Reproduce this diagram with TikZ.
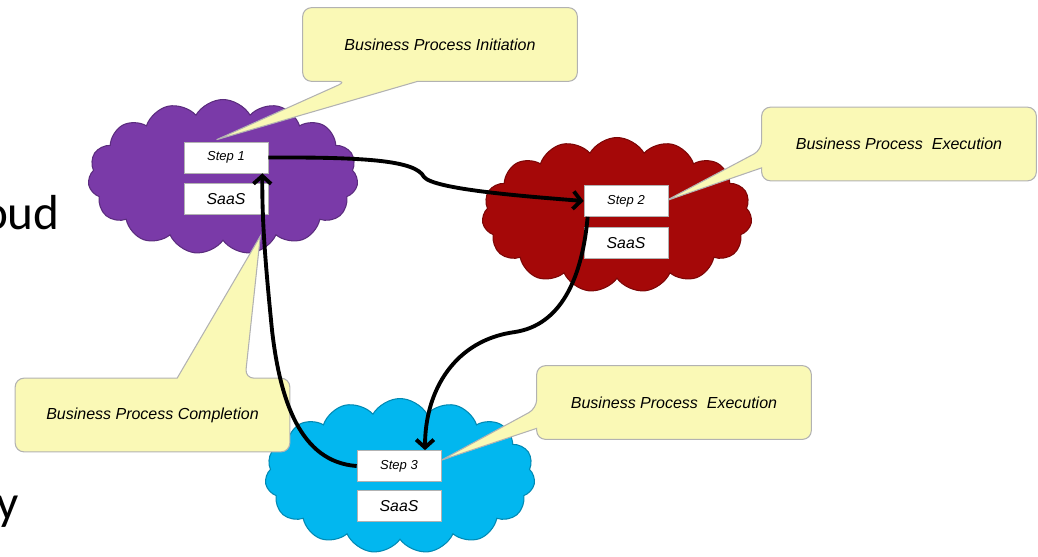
\documentclass[tikz,border=0pt]{standalone}
\usepackage{fontspec}
\setmainfont{Liberation Sans}
\newfontfamily\slidefont{Carlito}
\usepackage{xcolor}
\usetikzlibrary{shapes,shapes.symbols,positioning,arrows.meta,backgrounds}

\definecolor{noteyellow}{RGB}{250,249,182}
\definecolor{cloudpurple}{RGB}{122,58,168}
\definecolor{cloudred}{RGB}{165,8,8}
\definecolor{cloudblue}{RGB}{2,183,239}

\begin{document}
\begin{tikzpicture}[
    % Define node styles (pixel grid, y pointing down)
    x = 0.02cm, y = -0.02cm,
    stepbox/.style={rectangle, fill=white, draw=gray!60, minimum width=1.68cm, minimum height=0.62cm, inner sep=0pt, font=\itshape\fontsize{7.4}{9}\selectfont},
    saasbox/.style={stepbox, font=\itshape\fontsize{9}{11}\selectfont},
    cloudnode/.style={cloud, cloud puffs=15, cloud puff arc=120, aspect=1.75, minimum width=5.4cm, minimum height=3.1cm, inner sep=0pt, draw=#1!75!black, line width=0.6pt, fill=#1},
    notebox/.style={rectangle, minimum width=5.48cm, minimum height=1.46cm, inner sep=0pt, font=\itshape\fontsize{9.1}{11}\selectfont},
    notepath/.style={fill=noteyellow, draw=gray!60, line width=0.6pt},
    slidetext/.style={font=\slidefont\fontsize{28}{32}\selectfont, inner sep=0pt, anchor=base east},
    flow/.style={line width=2.2pt, -{Straight Barb[length=4.5pt,width=10pt]}},
]
\useasboundingbox (0,0) rectangle (1038,556);

% Step boxes
\node[stepbox] (step1) at (226,157.5) {Step 1};
\node[saasbox, below=0.2cm of step1] (saas1) {SaaS};
\node[stepbox] (step2) at (626,201) {Step 2};
\node[saasbox, below=0.2cm of step2] (saas2) {SaaS};
\node[stepbox] (step3) at (399,466) {Step 3};
\node[saasbox, below=0.16cm of step3] (saas3) {SaaS};

% Callout texts
\node[notebox] (init) at (440,44.5) {Business Process Initiation};
\node[notebox] (exec1) at (899,144) {Business Process\ \ Execution};
\node[notebox] (compl) at (152.5,415) {Business Process Completion};
\node[notebox] (exec2) at (674,402.5) {Business Process\ \ Execution};

% Callout tips
\coordinate (tip1) at ([xshift=0.66cm,yshift=0.04cm]step1.north west);
\coordinate (tip2) at ([xshift=-0.06cm]step2.east);
\coordinate (tip3) at ([xshift=-0.16cm,yshift=-0.42cm]saas1.south east);
\coordinate (tip4) at ([yshift=-0.2cm]step3.north east);

% Clouds and callout outlines behind the boxes
\begin{scope}[on background layer]
    \node[cloudnode=cloudpurple] (cloud1) at (223,177) {};
    \node[cloudnode=cloudred] (cloud2) at (617,215) {};
    \node[cloudnode=cloudblue] (cloud3) at (400,476) {};

    \draw[notepath] ([xshift=2.3cm]init.south west) [rounded corners=5pt] -- (init.south east) -- (init.north east) -- (init.north west) -- (init.south west) -- ([xshift=0.88cm]init.south west) [sharp corners] -- (tip1) -- cycle;
    \draw[notepath] ([yshift=0.26cm]exec1.south west) [rounded corners=5pt] -- (exec1.south west) -- (exec1.south east) -- (exec1.north east) -- (exec1.north west) -- ([yshift=0.62cm]exec1.south west) [sharp corners] -- (tip2) -- cycle;
    \draw[notepath] ([xshift=3.24cm]compl.north west) [rounded corners=5pt] -- (compl.north west) -- (compl.south west) -- (compl.south east) -- (compl.north east) -- ([xshift=4.6cm]compl.north west) [sharp corners] -- (tip3) -- cycle;
    \draw[notepath] ([yshift=0.22cm]exec2.south west) [rounded corners=5pt] -- (exec2.south west) -- (exec2.south east) -- (exec2.north east) -- (exec2.north west) -- ([yshift=0.62cm]exec2.south west) [sharp corners] -- (tip4) -- cycle;
\end{scope}

% Slide text cut off at the left edge
\node[slidetext] (frag1) at (60,229) {oud};
\node[slidetext] (frag2) at (19,519) {y};

% Process flow
\coordinate (bend1) at (424,177);
\coordinate (bend2) at (515,332);
\coordinate (bend3) at (272,330);
\draw[flow] (step1.east) .. controls (370,157) and (416,161) .. (bend1) .. controls (434,189) and (520,196) .. (step2.west);
\draw[flow] ([xshift=0.08cm]step2.south west) .. controls (582,280) and (560,325) .. (bend2) .. controls (455,340) and (425,390) .. ([xshift=0.52cm]step3.north);
\draw[flow] (step3.west) .. controls (300,462) and (280,400) .. (bend3) .. controls (265,260) and (262,220) .. ([xshift=-0.12cm]step1.south east);

\end{tikzpicture}
\end{document}
